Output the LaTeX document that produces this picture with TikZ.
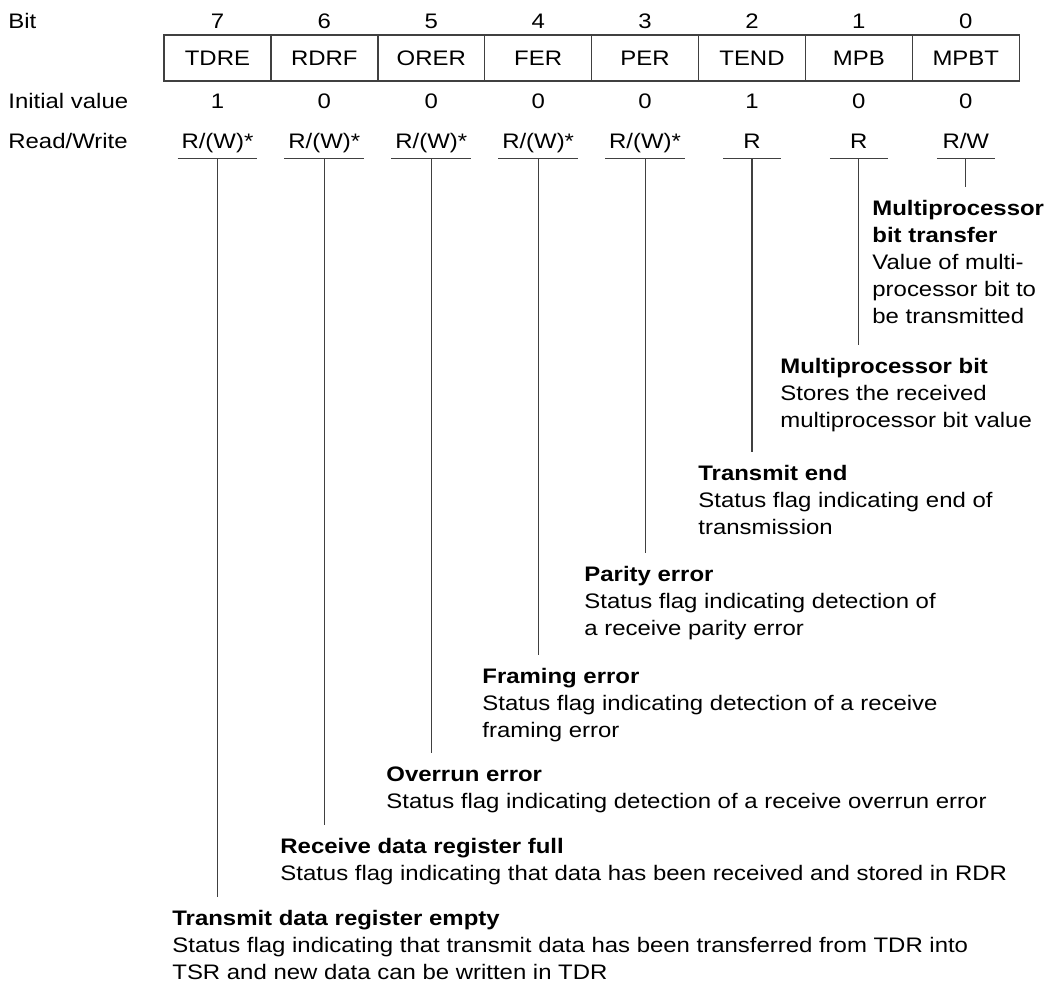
\documentclass[tikz,border=0pt]{standalone}
\usepackage{fontspec}
\setmainfont{Liberation Sans}[FakeStretch=1.14]
\usetikzlibrary{positioning}
\definecolor{rule}{HTML}{404040}
\definecolor{ink}{HTML}{000000}

\begin{document}
\begin{tikzpicture}[
  x=0.5pt, y=-0.5pt,
  font=\fontsize{10.5pt}{13.5pt}\selectfont,
  lbl/.style ={anchor=base west, inner sep=0pt, text=ink},
  cell/.style={draw=rule, line width=0.7pt, minimum width=53.45pt,
               minimum height=23pt, inner sep=0pt, outer sep=0pt, text=ink},
  val/.style ={anchor=base, inner sep=0pt, text=ink},
  acc/.style ={anchor=base, inner xsep=0pt, inner ysep=5pt, text height=8pt,
               text depth=0pt, minimum width=39.5pt, text=ink},
  accr/.style={acc, minimum width=28.5pt},
  desc/.style={anchor=north west, align=left, inner xsep=0pt, inner ysep=6.5pt,
               text=ink},
  lead/.style={draw=rule, line width=0.55pt},
]
  \useasboundingbox (0,0) rectangle (1052,987);

  % --- row labels ---
  \node[lbl] (bit) at (8,28)  {Bit};
  \node[lbl] (iv)  at (8,108) {Initial value};
  \node[lbl] (rw)  at (8,148) {Read/Write};

  % --- register cells ---
  \node[cell] (c7) at (217.45,58) {TDRE};
  \node[cell, right=0pt of c7] (c6) {RDRF};
  \node[cell, right=0pt of c6] (c5) {ORER};
  \node[cell, right=0pt of c5] (c4) {FER};
  \node[cell, right=0pt of c4] (c3) {PER};
  \node[cell, right=0pt of c3] (c2) {TEND};
  \node[cell, right=0pt of c2] (c1) {MPB};
  \node[cell, right=0pt of c1] (c0) {MPBT};

  % --- bit numbers ---
  \node[val] (b7) at (c7 |- bit.base) {7};
  \node[val] (b6) at (c6 |- bit.base) {6};
  \node[val] (b5) at (c5 |- bit.base) {5};
  \node[val] (b4) at (c4 |- bit.base) {4};
  \node[val] (b3) at (c3 |- bit.base) {3};
  \node[val] (b2) at (c2 |- bit.base) {2};
  \node[val] (b1) at (c1 |- bit.base) {1};
  \node[val] (b0) at (c0 |- bit.base) {0};

  % --- initial values ---
  \node[val] (i7) at (c7 |- iv.base) {1};
  \node[val] (i6) at (c6 |- iv.base) {0};
  \node[val] (i5) at (c5 |- iv.base) {0};
  \node[val] (i4) at (c4 |- iv.base) {0};
  \node[val] (i3) at (c3 |- iv.base) {0};
  \node[val] (i2) at (c2 |- iv.base) {1};
  \node[val] (i1) at (c1 |- iv.base) {0};
  \node[val] (i0) at (c0 |- iv.base) {0};

  % --- read/write access ---
  \node[acc]  (a7) at (c7 |- rw.base) {R/(W)*};
  \node[acc]  (a6) at (c6 |- rw.base) {R/(W)*};
  \node[acc]  (a5) at (c5 |- rw.base) {R/(W)*};
  \node[acc]  (a4) at (c4 |- rw.base) {R/(W)*};
  \node[acc]  (a3) at (c3 |- rw.base) {R/(W)*};
  \node[accr] (a2) at (c2 |- rw.base) {R};
  \node[accr] (a1) at (c1 |- rw.base) {R};
  \node[accr] (a0) at (c0 |- rw.base) {R/W};

  % --- bit descriptions ---
  \node[desc] (d0) at (872,187) {\textbf{Multiprocessor}\\\textbf{bit transfer}\\Value of multi-\\processor bit to\\be transmitted};
  \node[desc] (d1) at (780,345) {\textbf{Multiprocessor bit}\\Stores the received\\multiprocessor bit value};
  \node[desc] (d2) at (698,452) {\textbf{Transmit end}\\Status flag indicating end of\\transmission};
  \node[desc] (d3) at (584,553) {\textbf{Parity error}\\Status flag indicating detection of\\a receive parity error};
  \node[desc] (d4) at (482,655) {\textbf{Framing error}\\Status flag indicating detection of a receive\\framing error};
  \node[desc] (d5) at (386,753) {\textbf{Overrun error}\\Status flag indicating detection of a receive overrun error};
  \node[desc] (d6) at (280,825) {\textbf{Receive data register full}\\Status flag indicating that data has been received and stored in RDR};
  \node[desc] (d7) at (172,897) {\textbf{Transmit data register empty}\\Status flag indicating that transmit data has been transferred from TDR into\\TSR and new data can be written in TDR};

  % --- underlines and leaders ---
  \draw[lead] (a7.south west) -- (a7.south east);
  \draw[lead] (a6.south west) -- (a6.south east);
  \draw[lead] (a5.south west) -- (a5.south east);
  \draw[lead] (a4.south west) -- (a4.south east);
  \draw[lead] (a3.south west) -- (a3.south east);
  \draw[lead] (a2.south west) -- (a2.south east);
  \draw[lead] (a1.south west) -- (a1.south east);
  \draw[lead] (a0.south west) -- (a0.south east);
  \draw[lead] (a7.south) -- (a7.south |- d7.north);
  \draw[lead] (a6.south) -- (a6.south |- d6.north);
  \draw[lead] (a5.south) -- (a5.south |- d5.north);
  \draw[lead] (a4.south) -- (a4.south |- d4.north);
  \draw[lead] (a3.south) -- (a3.south |- d3.north);
  \draw[lead] (a2.south) -- (a2.south |- d2.north);
  \draw[lead] (a1.south) -- (a1.south |- d1.north);
  \draw[lead] (a0.south) -- (a0.south |- d0.north);
\end{tikzpicture}
\end{document}
